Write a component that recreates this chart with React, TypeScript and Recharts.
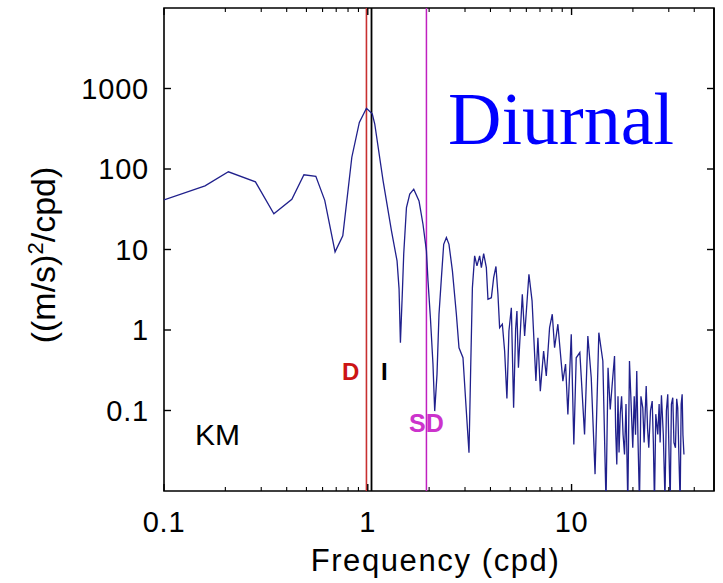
import React from "react";
import { LineChart, Line, XAxis, YAxis, ReferenceLine, ReferenceArea, Customized } from "recharts";

if (typeof document !== "undefined") {
  document.documentElement.style.overflow = "hidden";
  document.body.style.overflow = "hidden";
  document.body.style.margin = "0";
}

const freqs = [
  0.1, 0.159, 0.207, 0.281, 0.346, 0.424, 0.486, 0.556, 0.615, 0.691,
  0.754, 0.835, 0.909, 0.985, 1.052, 1.082, 1.189, 1.307, 1.392, 1.424,
  1.446, 1.48, 1.501, 1.548, 1.607, 1.681, 1.784, 1.866, 1.94, 1.975,
  2.029, 2.089, 2.13, 2.186, 2.236, 2.298, 2.358, 2.431, 2.503, 2.602,
  2.721, 2.803, 2.932, 3.023, 3.138, 3.199, 3.261, 3.345, 3.434, 3.54,
  3.609, 3.704, 3.818, 3.888, 4.041, 4.147, 4.256, 4.352, 4.436, 4.575,
  4.694, 4.817, 4.928, 5.064, 5.196, 5.315, 5.394, 5.486, 5.732, 5.884,
  6.177, 6.4, 6.683, 6.837, 7.025, 7.292, 7.516, 7.801, 8.042, 8.254,
  8.566, 9.065, 9.345, 9.592, 9.966, 10.26, 10.54, 10.98, 11.58, 12.02,
  12.49, 13.04, 13.61, 14.24, 14.76, 15.1, 15.48, 15.8, 16.25, 16.45,
  16.67, 16.9, 17.1, 17.33, 17.6, 17.9, 18.19, 18.5, 18.88, 19.24,
  19.6, 19.97, 20.3, 20.6, 20.89, 21.2, 21.54, 21.9, 22.36, 22.7,
  23.24, 23.6, 23.93, 24.4, 24.87, 25.2, 25.52, 25.9, 26.49, 26.9,
  27.2, 27.61, 28.2, 28.73, 29.2, 29.65, 30.0, 30.47, 30.9, 31.38,
  31.8, 32.35, 32.8, 33.19, 33.6, 34.11, 34.5, 34.89, 35.2, 35.61,
];

const psdValues = [
  41.4, 61.8, 92.3, 69.3, 27.7, 42.0, 84.7, 81.1, 40.8, 9.34,
  14.8, 140, 379, 569, 486, 362, 71.3, 17.0, 7.21, 3.24,
  0.695, 3.24, 8.82, 33.2, 48.7, 56.2, 40.2, 20.6, 9.6, 4.07,
  1.42, 0.375, 0.0983, 0.281, 1.57, 4.47, 11.6, 14.1, 11.6, 5.42,
  1.57, 0.602, 0.452, 0.131, 0.0298, 0.34, 3.36, 8.33, 6.25, 8.33,
  5.96, 8.89, 5.96, 2.41, 2.52, 4.47, 6.16, 2.78, 1.07, 1.18,
  0.548, 0.141, 0.972, 1.89, 0.108, 1.02, 1.72, 0.34, 2.78, 0.842,
  4.93, 2.3, 0.232, 0.802, 0.174, 0.548, 0.268, 1.07, 1.57, 0.602,
  1.18, 0.232, 0.378, 0.0894, 0.884, 0.0379, 0.452, 0.525, 0.0504, 0.842,
  0.255, 0.0162, 0.926, 0.412, 0.007, 0.34, 0.103, 0.2, 0.475, 0.06,
  0.0214, 0.15, 0.03, 0.0894, 0.15, 0.05, 0.0284, 0.12, 0.007, 0.412,
  0.12, 0.0344, 0.15, 0.05, 0.309, 0.04, 0.007, 0.15, 0.108, 0.04,
  0.201, 0.06, 0.0344, 0.1, 0.131, 0.04, 0.007, 0.09, 0.0504, 0.12,
  0.04, 0.155, 0.05, 0.008, 0.1, 0.159, 0.04, 0.007, 0.12, 0.144,
  0.04, 0.0344, 0.14, 0.108, 0.03, 0.007, 0.12, 0.159, 0.05, 0.0284,
];

const xMajorTicks = [0.1, 1, 10];
const xMinorTicks = [0.2, 0.3, 0.4, 0.5, 0.6, 0.7, 0.8, 0.9, 2, 3, 4, 5, 6, 7, 8, 9, 20, 30, 40];
const xAllTicks = [...xMajorTicks, ...xMinorTicks].sort((a, b) => a - b);
const yTicks = [0.1, 1, 10, 100, 1000];
const xDomain = [0.1, 50];
const yDomain = [0.01, 10000];

const markerD = 0.985;
const markerI = 1.043;
const markerSD = 1.94;

const data = freqs.map((f, i) => ({ f, psd: psdValues[i] }));

const SANS = "'Liberation Sans', Arial, Helvetica, sans-serif";
const MAJ = 7;
const MIN = 4;

const BottomTick = (props: any) => {
  const { x, y, payload } = props;
  const major = xMajorTicks.includes(payload.value);
  return (
    <g>
      <line x1={x} x2={x} y1={y} y2={y - (major ? MAJ : MIN)} stroke="#000" strokeWidth={major ? 1.4 : 1.1} />
      {major && (
        <text x={x} y={y + 20} dy="0.71em" textAnchor="middle" fontFamily={SANS} fontSize={29} letterSpacing={0.8} fill="#000">
          {String(payload.value)}
        </text>
      )}
    </g>
  );
};

const TopTick = (props: any) => {
  const { x, y, payload } = props;
  const major = xMajorTicks.includes(payload.value);
  return <line x1={x} x2={x} y1={y} y2={y + (major ? MAJ : MIN)} stroke="#000" strokeWidth={major ? 1.4 : 1.1} />;
};

const LeftTick = (props: any) => {
  const { x, y, payload } = props;
  return (
    <g>
      <line x1={x} x2={x + MAJ} y1={y} y2={y} stroke="#000" strokeWidth={1.4} />
      <text x={x - 15} y={y} dy="0.355em" textAnchor="end" fontFamily={SANS} fontSize={29} letterSpacing={0.8} fill="#000">
        {String(payload.value)}
      </text>
    </g>
  );
};

const RightTick = (props: any) => {
  const { x, y } = props;
  return <line x1={x} x2={x - MAJ} y1={y} y2={y} stroke="#000" strokeWidth={1.4} />;
};

const Annotations = () => (
  <g>
    <text x={448} y={144} fontFamily="'Liberation Serif', 'Times New Roman', serif" fontSize={74} fill="#0000ff">
      Diurnal
    </text>
    <text x={195} y={445} fontFamily={SANS} fontSize={30} fill="#000">KM</text>
    <text x={342} y={380} fontFamily={SANS} fontSize={24} fontWeight="bold" fill="#cc1414">D</text>
    <text x={381} y={380} fontFamily={SANS} fontSize={24} fontWeight="bold" fill="#000">I</text>
    <text x={409} y={432} fontFamily={SANS} fontSize={25} fontWeight="bold" fill="#cc33cc">SD</text>
    <text x={55} y={255} transform="rotate(-90, 55, 255)" textAnchor="middle" fontFamily={SANS} fontSize={34} fill="#000">
      ((m/s)
      <tspan dy={-12} fontSize={22}>2</tspan>
      <tspan dy={12}>/cpd)</tspan>
    </text>
    <text x={435.5} y={570.6} textAnchor="middle" fontFamily={SANS} fontSize={31} letterSpacing={1.6} fill="#000">
      Frequency (cpd)
    </text>
  </g>
);

export default function App() {
  return (
    <div style={{ position: "fixed", left: 0, top: 0, width: 723, height: 583, background: "#fff", overflow: "hidden" }}>
      <LineChart width={723} height={583} data={data} margin={{ top: 7, right: 8, bottom: 0, left: 0 }}>
        <XAxis
          dataKey="f"
          type="number"
          scale="log"
          domain={xDomain}
          allowDataOverflow
          ticks={xAllTicks}
          interval={0}
          tick={BottomTick}
          tickLine={false}
          axisLine={false}
          tickSize={0}
          tickMargin={0}
          height={92}
        />
        <XAxis
          xAxisId="top"
          dataKey="f"
          orientation="top"
          type="number"
          scale="log"
          domain={xDomain}
          allowDataOverflow
          ticks={xAllTicks}
          interval={0}
          tick={TopTick}
          tickLine={false}
          axisLine={false}
          tickSize={0}
          tickMargin={0}
          height={1}
        />
        <YAxis
          type="number"
          scale="log"
          domain={yDomain}
          allowDataOverflow
          ticks={yTicks}
          interval={0}
          tick={LeftTick}
          tickLine={false}
          axisLine={false}
          tickSize={0}
          tickMargin={0}
          width={164}
        />
        <YAxis
          yAxisId="right"
          orientation="right"
          type="number"
          scale="log"
          domain={yDomain}
          allowDataOverflow
          ticks={yTicks}
          interval={0}
          tick={RightTick}
          tickLine={false}
          axisLine={false}
          tickSize={0}
          tickMargin={0}
          width={1}
        />
        <ReferenceArea x1={xDomain[0]} x2={xDomain[1]} y1={yDomain[0]} y2={yDomain[1]} fill="none" fillOpacity={0} stroke="#000" strokeWidth={1.6} strokeOpacity={1} ifOverflow="visible" />
        <ReferenceLine x={xDomain[1]} stroke="#000" strokeWidth={1.6} ifOverflow="visible" />
        <ReferenceLine x={markerD} stroke="#c83030" strokeWidth={1.6} />
        <ReferenceLine x={markerI} stroke="#000" strokeWidth={1.8} />
        <ReferenceLine x={markerSD} stroke="#c020c0" strokeWidth={1.5} />
        <Line type="linear" dataKey="psd" stroke="#20208c" strokeWidth={1.3} dot={false} isAnimationActive={false} />
        <Line xAxisId="top" yAxisId="right" type="linear" dataKey="psd" stroke="none" dot={false} isAnimationActive={false} legendType="none" />
        <Customized component={Annotations} />
      </LineChart>
    </div>
  );
}
